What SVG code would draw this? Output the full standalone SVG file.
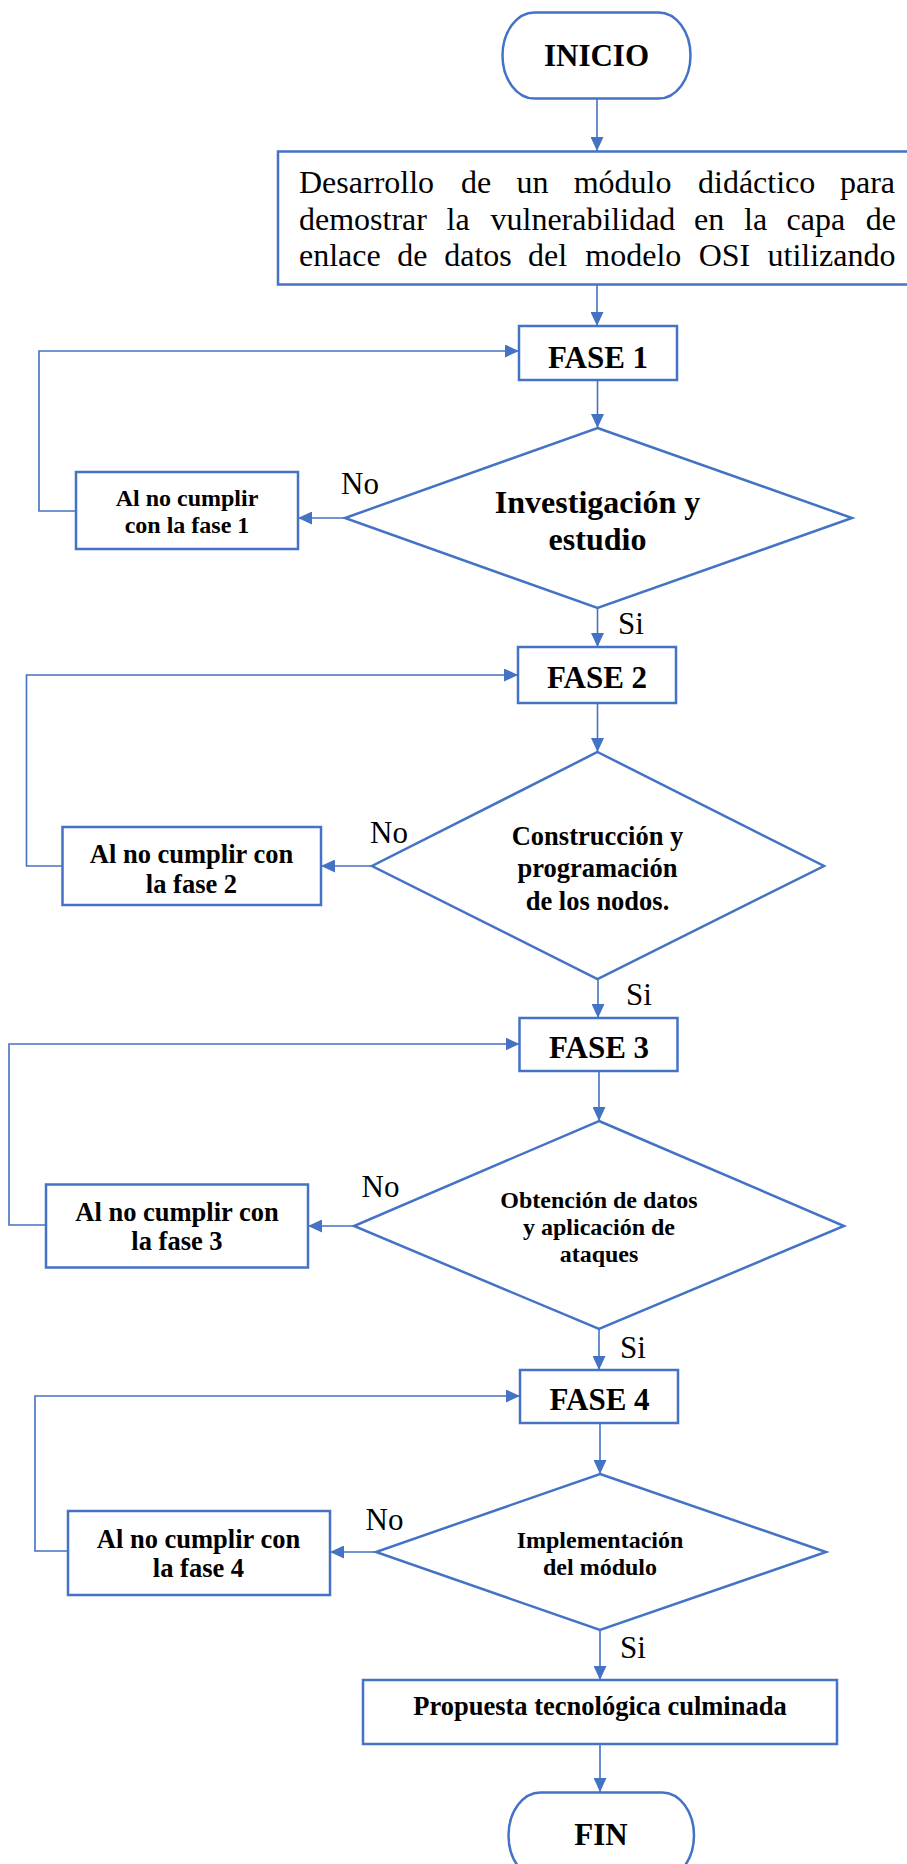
<svg xmlns="http://www.w3.org/2000/svg" width="907" height="1864" viewBox="0 0 907 1864">
<defs>
<marker id="ah" markerUnits="userSpaceOnUse" markerWidth="14" markerHeight="13" refX="14" refY="6.5" orient="auto">
<path d="M0,0 L14,6.5 L0,13 z" fill="#4472C4"/>
</marker>
<style>
.n{fill:#fff;stroke:#4472C4;stroke-width:2.5}
.c{fill:none;stroke:#4472C4;stroke-width:1.6;marker-end:url(#ah)}
.t{font-family:"Liberation Serif","Times New Roman",serif;fill:#000}
.b{font-weight:bold;text-anchor:middle}
.h{font-size:31px}
.m{font-size:26.5px}
.s{font-size:24px}
.lbl{font-size:31px}
</style>
</defs>
<rect width="907" height="1864" fill="#fff"/>

<g id="connectors">
<path class="c" d="M597,98 V151"/>
<path class="c" d="M597,285 V326"/>
<path class="c" d="M597.5,380 V428"/>
<path class="c" d="M345,518 H298"/>
<path class="c" d="M76,511 H39 V351 H519"/>
<path class="c" d="M597.5,608 V647"/>
<path class="c" d="M597.5,703 V752"/>
<path class="c" d="M372,866 H321"/>
<path class="c" d="M62.5,866 H26.5 V675 H518"/>
<path class="c" d="M598,979 V1018"/>
<path class="c" d="M599,1071 V1121"/>
<path class="c" d="M354,1226 H308"/>
<path class="c" d="M46,1225 H9 V1044 H519.5"/>
<path class="c" d="M599,1329 V1370"/>
<path class="c" d="M600,1423 V1474"/>
<path class="c" d="M376,1552 H330"/>
<path class="c" d="M68,1551 H35 V1396 H520"/>
<path class="c" d="M600,1630 V1680"/>
<path class="c" d="M600,1744 V1792"/>
<text class="t lbl" x="341" y="494">No</text>
<text class="t lbl" x="618" y="634">Si</text>
<text class="t lbl" x="370" y="843">No</text>
<text class="t lbl" x="626" y="1005">Si</text>
<text class="t lbl" x="361.5" y="1197">No</text>
<text class="t lbl" x="620" y="1358">Si</text>
<text class="t lbl" x="365.5" y="1530">No</text>
<text class="t lbl" x="620" y="1658">Si</text>
</g>

<g id="inicio">
<rect class="n" x="502.5" y="12.5" width="188" height="86" rx="32" ry="43"/>
<text class="t b h" x="596.5" y="66">INICIO</text>
</g>

<g id="descripcion">
<rect class="n" x="278" y="151.5" width="700" height="133"/>
<text class="t" font-size="32" y="193"><tspan x="299">Desarrollo</tspan><tspan x="461">de</tspan><tspan x="516.5">un</tspan><tspan x="573.7">módulo</tspan><tspan x="698">didáctico</tspan><tspan x="840">para</tspan></text>
<text class="t" font-size="32" y="230"><tspan x="299">demostrar</tspan><tspan x="446.5">la</tspan><tspan x="490.5">vulnerabilidad</tspan><tspan x="694">en</tspan><tspan x="744">la</tspan><tspan x="786.6">capa</tspan><tspan x="865.8">de</tspan></text>
<text class="t" font-size="32" y="266"><tspan x="299">enlace</tspan><tspan x="397.3">de</tspan><tspan x="444.2">datos</tspan><tspan x="528">del</tspan><tspan x="585.3">modelo</tspan><tspan x="698.7">OSI</tspan><tspan x="767.5">utilizando</tspan></text>
</g>

<g id="fase1">
<rect class="n" x="519" y="326" width="158" height="54"/>
<text class="t b h" x="598" y="368">FASE 1</text>
</g>
<g id="decision1">
<polygon class="n" points="597.5,428 852,518 597.5,608 345,518"/>
<text class="t b" font-size="32" x="597.5" y="513">Investigación y</text>
<text class="t b" font-size="32" x="597.5" y="550">estudio</text>
</g>
<g id="nocumple1">
<rect class="n" x="76" y="472" width="222" height="77"/>
<text class="t b s" x="187" y="506">Al no cumplir</text>
<text class="t b s" x="187" y="533">con la fase 1</text>
</g>

<g id="fase2">
<rect class="n" x="518" y="647" width="158" height="56"/>
<text class="t b h" x="597" y="688">FASE 2</text>
</g>
<g id="decision2">
<polygon class="n" points="597.5,752 824,866 597.5,979 372,866"/>
<text class="t b m" x="597.5" y="845">Construcción y</text>
<text class="t b m" x="597.5" y="877">programación</text>
<text class="t b m" x="597.5" y="910">de los nodos.</text>
</g>
<g id="nocumple2">
<rect class="n" x="62.5" y="827" width="258.5" height="78"/>
<text class="t b m" x="191.5" y="863">Al no cumplir con</text>
<text class="t b m" x="191.5" y="893">la fase 2</text>
</g>

<g id="fase3">
<rect class="n" x="519.5" y="1018" width="158" height="53"/>
<text class="t b h" x="599" y="1058">FASE 3</text>
</g>
<g id="decision3">
<polygon class="n" points="599,1121 844,1226 599,1329 354,1226"/>
<text class="t b s" x="599" y="1208">Obtención de datos</text>
<text class="t b s" x="599" y="1235">y aplicación de</text>
<text class="t b s" x="599" y="1262">ataques</text>
</g>
<g id="nocumple3">
<rect class="n" x="46" y="1184.5" width="262" height="83"/>
<text class="t b m" x="177" y="1221">Al no cumplir con</text>
<text class="t b m" x="177" y="1250">la fase 3</text>
</g>

<g id="fase4">
<rect class="n" x="520" y="1370" width="158" height="53"/>
<text class="t b h" x="599.5" y="1410">FASE 4</text>
</g>
<g id="decision4">
<polygon class="n" points="600,1474 826,1552 600,1630 376,1552"/>
<text class="t b s" x="600" y="1548">Implementación</text>
<text class="t b s" x="600" y="1575">del módulo</text>
</g>
<g id="nocumple4">
<rect class="n" x="68" y="1511" width="262" height="84"/>
<text class="t b m" x="198.5" y="1548">Al no cumplir con</text>
<text class="t b m" x="198.5" y="1577">la fase 4</text>
</g>

<g id="propuesta">
<rect class="n" x="363" y="1680" width="474" height="64"/>
<text class="t b m" x="600" y="1715">Propuesta tecnológica culminada</text>
</g>

<g id="fin">
<rect class="n" x="508.5" y="1792.5" width="185.5" height="86" rx="32" ry="43"/>
<text class="t b h" x="601" y="1845">FIN</text>
</g>
</svg>
